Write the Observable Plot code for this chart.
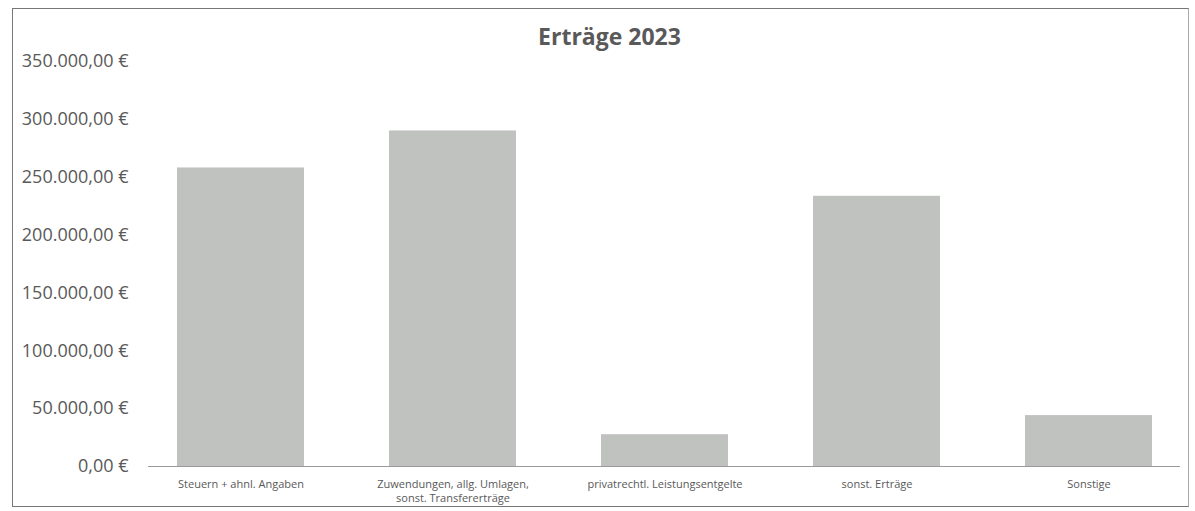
<!DOCTYPE html>
<html><head><meta charset="utf-8">
<script src="https://cdn.jsdelivr.net/npm/d3@7"></script>
<script src="https://cdn.jsdelivr.net/npm/@observablehq/plot@0.6"></script>
<style>
body{margin:0;background:#fff;position:relative;width:1195px;height:511px;overflow:hidden;font-family:"Open Sans",sans-serif;}
#frame{position:absolute;left:12px;top:8px;width:1177px;height:499px;border:1px solid #777;border-right-color:#aaa;box-sizing:border-box;}
#title{position:absolute;left:12px;width:1195px;top:20px;text-align:center;font-weight:bold;font-size:23px;color:#595959;font-family:"Open Sans",sans-serif;}
#chart{position:absolute;left:0;top:40px;}
</style></head><body>
<div id="frame"></div>
<div id="title">Erträge 2023</div>
<div id="chart"></div>
<script>
const categories = ["Steuern + ahnl. Angaben", "Zuwendungen, allg. Umlagen,\nsonst. Transfererträge", "privatrechtl. Leistungsentgelte", "sonst. Erträge", "Sonstige"];
const values = [258000, 290000, 27500, 233500, 44000];
const yTicks = [0, 50000, 100000, 150000, 200000, 250000, 300000, 350000];

const data = categories.map((c, i) => ({cat: c, value: values[i]}));
const fmt = v => v.toLocaleString("de-DE", {minimumFractionDigits: 2, maximumFractionDigits: 2}) + " €";

const plot = Plot.plot({
  width: 1195,
  height: 470,
  marginLeft: 148,
  marginRight: 15,
  marginTop: 21,
  marginBottom: 44,
  style: {fontFamily: "Open Sans, sans-serif", color: "#595959", background: "transparent"},
  x: {domain: categories, range: [176, 1154], paddingInner: 0.4, paddingOuter: 0, label: null},
  y: {domain: [0, 350000], label: null},
  marks: [
    Plot.barY(data, {x: "cat", y: "value", fill: "#c0c2c0"}),
    Plot.ruleY([0], {stroke: "#9a9a9a", strokeWidth: 1.2}),
    Plot.axisY({ticks: yTicks, tickFormat: fmt, tickSize: 0, tickPadding: 20, fontSize: 18, label: null, fill: "#595959"}),
    Plot.axisX({tickSize: 0, tickPadding: 11, fontSize: 11, label: null, fill: "#595959", lineHeight: 1.3})
  ]
});
document.getElementById("chart").appendChild(plot);
</script>
</body></html>
